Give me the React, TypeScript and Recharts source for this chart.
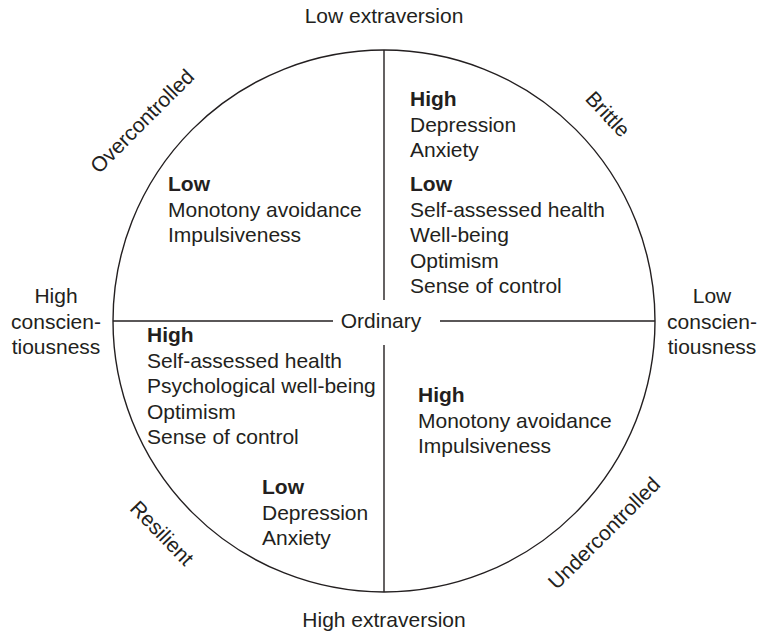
import { ScatterChart, Scatter, XAxis, YAxis, ReferenceLine, ReferenceDot } from 'recharts';

document.body.style.margin = '0';

const INK = '#231f20';
const FONT = '"Liberation Sans", Arial, Helvetica, sans-serif';
const LINE_GAP = 25.6;

// plane centred on the circle, one unit per pixel, y pointing up
const xDomain: [number, number] = [-384, 382];
const yDomain: [number, number] = [-314, 321];
const radius = 271;

const brittleHigh = ['Depression', 'Anxiety'];
const brittleLow = ['Self-assessed health', 'Well-being', 'Optimism', 'Sense of control'];
const overLow = ['Monotony avoidance', 'Impulsiveness'];
const resilientHigh = ['Self-assessed health', 'Psychological well-being', 'Optimism', 'Sense of control'];
const resilientLow = ['Depression', 'Anxiety'];
const underHigh = ['Monotony avoidance', 'Impulsiveness'];

const blocks = [
  { x: 26, y: 215, head: 'High', items: brittleHigh },
  { x: 26, y: 130, head: 'Low', items: brittleLow },
  { x: -216, y: 130, head: 'Low', items: overLow },
  { x: -237, y: -21, head: 'High', items: resilientHigh },
  { x: -122, y: -173, head: 'Low', items: resilientLow },
  { x: 34, y: -81, head: 'High', items: underHigh },
];

const types = [
  { x: -242, y: 200, name: 'Overcontrolled', angle: -45 },
  { x: 224, y: 207, name: 'Brittle', angle: 47 },
  { x: -222, y: -212, name: 'Resilient', angle: 46 },
  { x: 220, y: -212, name: 'Undercontrolled', angle: -45 },
];

const poles = [
  { x: 0, y: 298, lines: ['Low extraversion'] },
  { x: 0, y: -306, lines: ['High extraversion'] },
  { x: -328, y: 18, lines: ['High', 'conscien-', 'tiousness'] },
  { x: 328, y: 18, lines: ['Low', 'conscien-', 'tiousness'] },
  { x: -3, y: -7, lines: ['Ordinary'] },
];

const axisSegments = [
  [{ x: -radius, y: 0 }, { x: -51, y: 0 }],
  [{ x: 56, y: 0 }, { x: radius, y: 0 }],
  [{ x: 0, y: radius }, { x: 0, y: 21 }],
  [{ x: 0, y: -24 }, { x: 0, y: -radius }],
];

function BlockLabel(props: any) {
  const { cx, cy, payload } = props;
  return (
    <text x={cx} y={cy} fill={INK} fontFamily={FONT} fontSize={21}>
      <tspan x={cx} fontWeight="bold">{payload.head}</tspan>
      {payload.items.map((t: string, i: number) => (
        <tspan key={i} x={cx} dy={LINE_GAP}>{t}</tspan>
      ))}
    </text>
  );
}

function PoleLabel(props: any) {
  const { cx, cy, payload } = props;
  return (
    <text x={cx} y={cy} fill={INK} fontFamily={FONT} fontSize={21} textAnchor="middle">
      {payload.lines.map((t: string, i: number) => (
        <tspan key={i} x={cx} dy={i === 0 ? 0 : LINE_GAP}>{t}</tspan>
      ))}
    </text>
  );
}

function TypeLabel(props: any) {
  const { cx, cy, payload } = props;
  return (
    <text
      x={cx}
      y={cy}
      dy="0.35em"
      fill={INK}
      fontFamily={FONT}
      fontSize={21}
      textAnchor="middle"
      transform={`rotate(${payload.angle} ${cx} ${cy})`}
    >
      {payload.name}
    </text>
  );
}

export default function App() {
  return (
    <ScatterChart width={766} height={635} margin={{ top: 0, right: 0, bottom: 0, left: 0 }}>
      <XAxis type="number" dataKey="x" domain={xDomain} hide />
      <YAxis type="number" dataKey="y" domain={yDomain} hide />
      <ReferenceDot x={0} y={0} r={radius} fill="none" stroke={INK} strokeWidth={1.4} />
      {axisSegments.map((seg, i) => (
        <ReferenceLine key={i} segment={seg} stroke={INK} strokeWidth={1.4} />
      ))}
      <Scatter data={blocks} shape={BlockLabel} isAnimationActive={false} />
      <Scatter data={poles} shape={PoleLabel} isAnimationActive={false} />
      <Scatter data={types} shape={TypeLabel} isAnimationActive={false} />
    </ScatterChart>
  );
}
